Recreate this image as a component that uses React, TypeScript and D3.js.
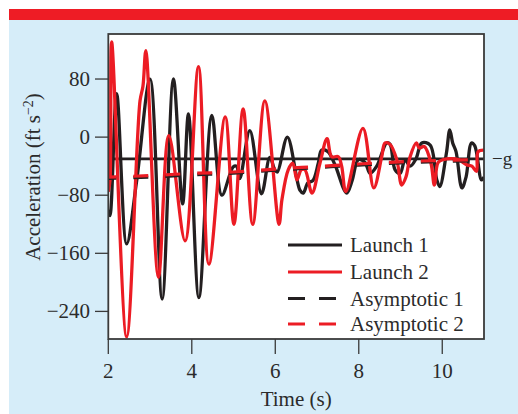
import React from "react";
import * as d3 from "d3";

const launch1T = [2.0, 2.04, 2.2, 2.44, 2.68, 3.0, 3.29, 3.56, 3.78, 3.92, 4.17, 4.48, 4.72, 4.99, 5.07, 5.15, 5.39, 5.67, 5.87, 5.99, 6.05, 6.29, 6.59, 6.67, 6.78, 6.9, 7.03, 7.11, 7.26, 7.43, 7.71, 7.84, 7.99, 8.15, 8.27, 8.43, 8.67, 8.75, 8.87, 8.99, 9.11, 9.23, 9.37, 9.51, 9.71, 9.87, 9.94, 10.1, 10.18, 10.25, 10.33, 10.47, 10.57, 10.7, 10.78, 10.94, 11.0];
const launch1V = [-100, -108, 60, -147, -60, 80, -223, 80, -92, 32, -221, 30, -80, -41, -40, -57, 9, -78, -28, -45, -48, 0, -73, -77, -63, -60, -36, -18, -20, -38, -77, -60, -31, -35, -50, -40, -8, -10, -45, -50, -31, -40, -30, -8, -11, -59, -68, -22, 10, -8, -20, -70, -55, -8, -12, -59, -55];

const launch2T = [2.0, 2.04, 2.08, 2.44, 2.76, 2.83, 2.9, 3.2, 3.45, 3.84, 4.16, 4.41, 4.8, 5.01, 5.23, 5.46, 5.75, 6.09, 6.16, 6.31, 6.42, 6.52, 6.62, 6.71, 6.88, 7.07, 7.24, 7.35, 7.51, 7.59, 7.69, 8.1, 8.36, 8.55, 8.63, 8.75, 8.91, 9.03, 9.13, 9.23, 9.38, 9.45, 9.57, 9.73, 9.81, 9.9, 10.02, 10.31, 10.42, 10.58, 10.71, 10.82, 10.86, 11.0];
const launch2V = [-75, -60, 131, -275, 50, 70, 119, -193, 2, -143, 97, -175, 28, -120, 39, -120, 50, -120, -86, -45, -36, -59, -45, -45, -77, -36, -2, -27, -27, -40, -75, 12, -70, -27, -8, -10, -31, -66, -55, -27, -8, -15, -13, -36, -66, -35, -31, -30, -32, -38, -40, -47, -20, -18];

const asymT = [2, 3, 4, 5, 6, 7, 8, 9, 10, 11];
const asym1V = [-57, -55, -52, -49.5, -45.5, -42, -38.5, -35.5, -33.5, -32.5];
const asym2V = [-55, -53, -50, -48, -44, -40.5, -37, -34, -32, -31];

const gValue = -30;

const xTicks = [2, 4, 6, 8, 10];
const yTicks = [80, 0, -80, -160, -240];

const legendLabels = ["Launch 1", "Launch 2", "Asymptotic 1", "Asymptotic 2"];

const BLACK = "#231f20";
const RED = "#ec1c24";
const TEXT = "#2b2b2b";
const FONT = "'Liberation Serif', 'Times New Roman', serif";
const FS = 21;

export default function App() {
  const W = 518, H = 414;
  const L = 108.3, R = 484, T = 34, B = 339;
  const x = d3.scaleLinear().domain([2, 11]).range([L, R]);
  const y = d3.scaleLinear().domain([-278, 142]).range([B, T]);

  const line = d3
    .line<[number, number]>()
    .x((d) => x(d[0]))
    .y((d) => y(d[1]))
    .curve(d3.curveCatmullRom.alpha(0.5));
  const smooth = d3
    .line<[number, number]>()
    .x((d) => x(d[0]))
    .y((d) => y(d[1]))
    .curve(d3.curveMonotoneX);

  const l1 = line(launch1T.map((t, i) => [t, launch1V[i]]) as [number, number][]) || "";
  const l2 = line(launch2T.map((t, i) => [t, launch2V[i]]) as [number, number][]) || "";
  const a1 = smooth(asymT.map((t, i) => [t, asym1V[i]]) as [number, number][]) || "";
  const a2 = smooth(asymT.map((t, i) => [t, asym2V[i]]) as [number, number][]) || "";

  const legendStyles = [
    { color: BLACK, dash: "none" },
    { color: RED, dash: "none" },
    { color: BLACK, dash: "17,14" },
    { color: RED, dash: "17,14" },
  ];
  const legendY = [245, 272, 298.5, 324];

  return (
    <svg width={W} height={H} style={{ position: "absolute", left: 0, top: 0 }} fontFamily={FONT}>
      <rect x={0} y={0} width={W} height={H} fill="#ffffff" />
      <rect x={9} y={20} width={W - 9} height={H - 20} fill="#d6edf9" />
      <rect x={9} y={9} width={W - 9} height={11} fill="#ee1c25" />
      <rect x={L} y={T} width={R - L} height={B - T} fill="#ffffff" />
      <defs>
        <clipPath id="plotclip">
          <rect x={L} y={T} width={R - L} height={B - T} />
        </clipPath>
      </defs>
      <g clipPath="url(#plotclip)">
        <line x1={L} x2={R} y1={y(gValue)} y2={y(gValue)} stroke={BLACK} strokeWidth={2.8} />
        <path d={l1} fill="none" stroke={BLACK} strokeWidth={3.3} strokeLinejoin="round" />
        <path d={l2} fill="none" stroke={RED} strokeWidth={3.3} strokeLinejoin="round" />
        <path d={a1} fill="none" stroke={BLACK} strokeWidth={3.2} strokeDasharray="15,17" strokeDashoffset={7} />
        <path d={a2} fill="none" stroke={RED} strokeWidth={3.2} strokeDasharray="15,17" strokeDashoffset={7} />
      </g>
      <rect x={L} y={T} width={R - L} height={B - T} fill="none" stroke="#3a3a3a" strokeWidth={1.8} />
      {yTicks.map((v) => (
        <g key={v}>
          <line x1={95} x2={L} y1={y(v)} y2={y(v)} stroke="#3a3a3a" strokeWidth={1.3} />
          <text x={90} y={y(v) + 7} textAnchor="end" fontSize={FS} fill={TEXT}>
            {v < 0 ? "\u2212" + Math.abs(v) : String(v)}
          </text>
        </g>
      ))}
      {xTicks.map((v) => (
        <g key={v}>
          <line x1={x(v)} x2={x(v)} y1={B} y2={354} stroke="#3a3a3a" strokeWidth={1.3} />
          <text x={x(v)} y={378} textAnchor="middle" fontSize={FS} fill={TEXT}>
            {v}
          </text>
        </g>
      ))}
      <text x={(L + R) / 2} y={406} textAnchor="middle" fontSize={FS} fill={TEXT}>
        Time (s)
      </text>
      <text
        transform={`translate(40, 177) rotate(-90)`}
        textAnchor="middle"
        fontSize={FS}
        fill={TEXT}
      >
        Acceleration (ft s
        <tspan dy={-7} fontSize={14}>
          {"\u22122"}
        </tspan>
        <tspan dy={7}>)</tspan>
      </text>
      <text x={492} y={y(gValue) + 6} fontSize={19} fill={TEXT}>
        {"\u2212g"}
      </text>
      {legendLabels.map((lab, i) => (
        <g key={lab}>
          <line
            x1={288}
            x2={342}
            y1={legendY[i]}
            y2={legendY[i]}
            stroke={legendStyles[i].color}
            strokeWidth={3.2}
            strokeDasharray={legendStyles[i].dash}
          />
          <text x={350} y={legendY[i] + 7} fontSize={FS} fill={TEXT}>
            {lab}
          </text>
        </g>
      ))}
    </svg>
  );
}
